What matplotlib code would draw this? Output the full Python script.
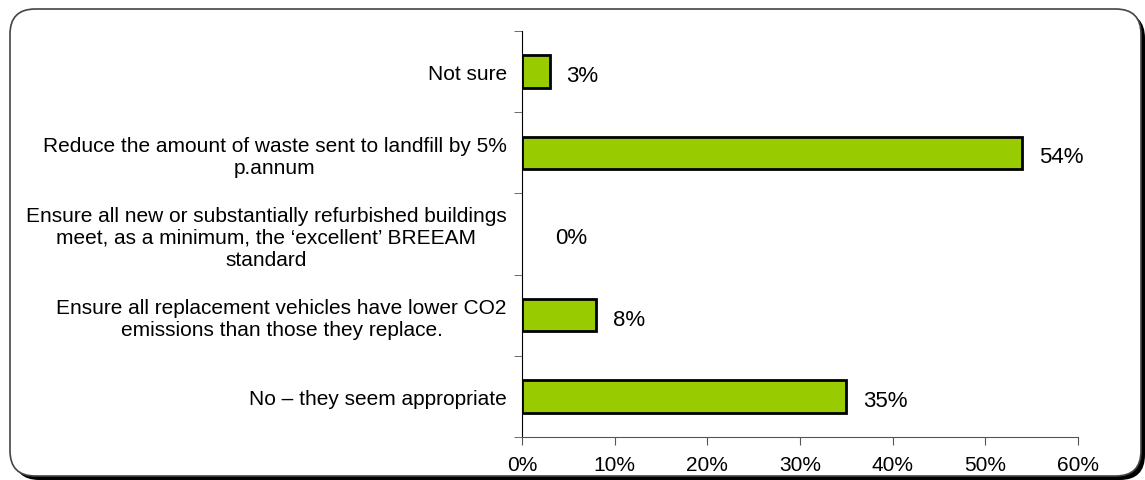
import matplotlib.pyplot as plt
from matplotlib.patches import FancyBboxPatch

plt.rcParams['font.family'] = ['Liberation Sans', 'DejaVu Sans']

# Survey responses, top to bottom
categories = [
    "Not sure",
    "Reduce the amount of waste sent to landfill by 5%\np.annum",
    "Ensure all new or substantially refurbished buildings\nmeet, as a minimum, the \u2018excellent\u2019 BREEAM\nstandard",
    "Ensure all replacement vehicles have lower CO2\nemissions than those they replace.",
    "No \u2013 they seem appropriate",
]
values = [3, 54, 0, 8, 35]
xticks = [0, 10, 20, 30, 40, 50, 60]

W, H = 1145, 481
fig = plt.figure(figsize=(W / 100, H / 100), dpi=100)

# Rounded frame with a drop shadow
px = lambda x: x / W
py = lambda y: y / H
box = dict(boxstyle="round,pad=0,rounding_size=0.022",
           mutation_aspect=W / H, transform=fig.transFigure)
shadow = FancyBboxPatch((px(14), py(0)), px(1131), py(467),
                        facecolor="black", lw=0, zorder=0, **box)
frame = FancyBboxPatch((px(10), py(4)), px(1131), py(467),
                       facecolor="white", edgecolor="#444444", lw=1.2,
                       zorder=1, **box)
fig.patches.extend([shadow, frame])

ax = fig.add_axes([522 / W, 1 - 438 / H, 556 / W, 406 / H])
ax.set_zorder(2)
ax.patch.set_alpha(0)

ypos = list(range(len(categories)))[::-1]
ax.barh(ypos, values, height=0.4, color="#99CC00", edgecolor="black",
        linewidth=[2 if v else 0 for v in values])

for y, v in zip(ypos, values):
    ax.annotate(f"{v}%", (v, y), xytext=(12 if v else 24, -1),
                textcoords="offset points", ha="left",
                va="center_baseline", fontsize=16)

ax.set_xlim(0, 60)
ax.set_ylim(-0.5, len(categories) - 0.5)
ax.set_xticks(xticks)
ax.set_xticklabels([f"{t}%" for t in xticks], fontsize=15)
ax.set_yticks(ypos)
ax.set_yticklabels(categories, fontsize=15, multialignment="center")
ax.tick_params(axis="y", which="major", length=0, pad=11)
ax.set_yticks([i - 0.5 for i in range(len(categories) + 1)], minor=True)
ax.tick_params(axis="y", which="minor", length=6, color="#555555")
ax.tick_params(axis="x", length=6, color="#555555", pad=7)

for s in ["top", "right"]:
    ax.spines[s].set_visible(False)
ax.spines["left"].set_color("black")
ax.spines["bottom"].set_color("#555555")

fig.savefig("out.png", dpi=100)
